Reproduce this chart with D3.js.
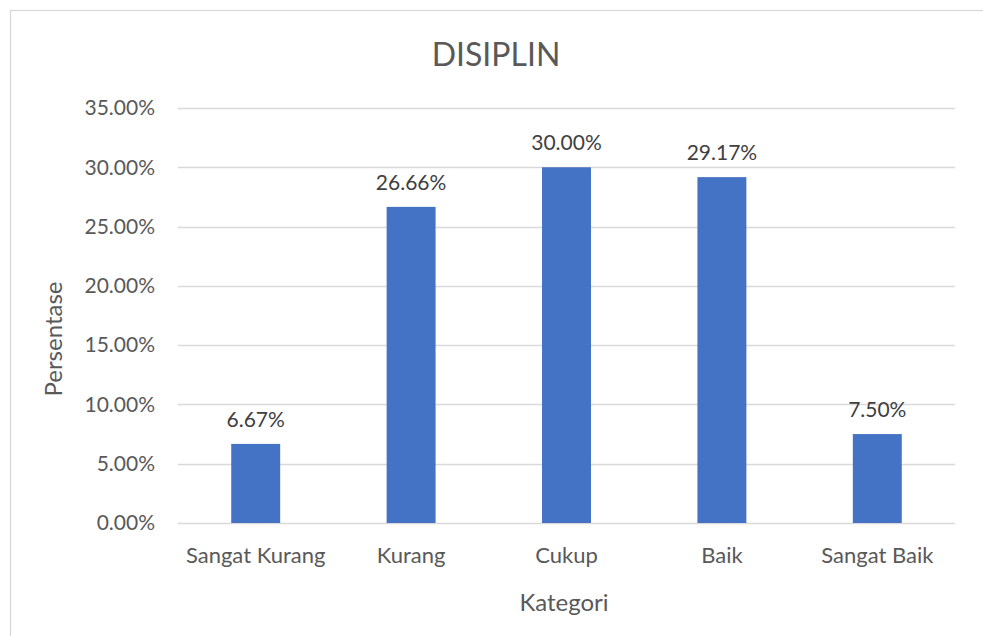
<!DOCTYPE html>
<html lang="en">
<head>
<meta charset="utf-8">
<title>DISIPLIN</title>
<script src="https://d3js.org/d3.v7.min.js"></script>
<style>
  body { margin: 0; background: #fff; }
  svg text { font-family: Lato, "Open Sans", sans-serif; }
  .grid line { stroke: #d9d9d9; stroke-width: 1.3; }
  .tick-label { fill: #595959; font-size: 21px; }
  .cat-label { fill: #595959; font-size: 22px; }
  .val-label { fill: #404040; font-size: 21px; }
  .axis-title { fill: #595959; font-size: 24px; }
  .title { fill: #595959; font-size: 32px; }
</style>
</head>
<body>
<svg width="983" height="636"></svg>
<script>
  // data
  var categories = ["Sangat Kurang", "Kurang", "Cukup", "Baik", "Sangat Baik"];
  var values = [6.67, 26.66, 30.00, 29.17, 7.50];
  var yTicks = [0, 5, 10, 15, 20, 25, 30, 35];

  var svg = d3.select("svg");

  // chart border (only top and left visible in the picture)
  svg.append("rect")
    .attr("x", 10.5).attr("y", 10.5)
    .attr("width", 1000).attr("height", 700)
    .attr("fill", "none")
    .attr("stroke", "#d9d9d9")
    .attr("stroke-width", 1.3);

  var plot = { left: 178, right: 955, top: 108, bottom: 523 };

  var x = d3.scaleBand()
    .domain(categories)
    .range([plot.left, plot.right])
    .paddingInner(0.685)
    .paddingOuter(0.3425);

  var y = d3.scaleLinear()
    .domain([0, 35])
    .range([plot.bottom, plot.top]);

  // gridlines
  svg.append("g")
    .attr("class", "grid")
    .selectAll("line")
    .data(yTicks)
    .enter().append("line")
    .attr("x1", plot.left)
    .attr("x2", plot.right)
    .attr("y1", function(d) { return Math.round(y(d)) + 0.5; })
    .attr("y2", function(d) { return Math.round(y(d)) + 0.5; });

  // y tick labels
  svg.append("g")
    .selectAll("text")
    .data(yTicks)
    .enter().append("text")
    .attr("class", "tick-label")
    .attr("x", 155)
    .attr("y", function(d) { return y(d); })
    .attr("dy", "0.35em")
    .attr("text-anchor", "end")
    .text(function(d) { return d.toFixed(2) + "%"; });

  // bars
  svg.append("g")
    .selectAll("rect")
    .data(values)
    .enter().append("rect")
    .attr("x", function(d, i) { return x(categories[i]); })
    .attr("width", x.bandwidth())
    .attr("y", function(d) { return y(d); })
    .attr("height", function(d) { return y(0) - y(d); })
    .attr("fill", "#4472c4");

  // value labels
  svg.append("g")
    .selectAll("text")
    .data(values)
    .enter().append("text")
    .attr("class", "val-label")
    .attr("x", function(d, i) { return x(categories[i]) + x.bandwidth() / 2; })
    .attr("y", function(d) { return y(d) - 17; })
    .attr("text-anchor", "middle")
    .text(function(d) { return d.toFixed(2) + "%"; });

  // category labels
  svg.append("g")
    .selectAll("text")
    .data(categories)
    .enter().append("text")
    .attr("class", "cat-label")
    .attr("x", function(d) { return x(d) + x.bandwidth() / 2; })
    .attr("y", 563)
    .attr("text-anchor", "middle")
    .text(function(d) { return d; });

  // titles
  svg.append("text")
    .attr("class", "title")
    .attr("x", 496)
    .attr("y", 66)
    .attr("text-anchor", "middle")
    .text("DISIPLIN");

  svg.append("text")
    .attr("class", "axis-title")
    .attr("x", 564)
    .attr("y", 611)
    .attr("text-anchor", "middle")
    .text("Kategori");

  svg.append("text")
    .attr("class", "axis-title")
    .attr("transform", "translate(62,339) rotate(-90)")
    .attr("text-anchor", "middle")
    .text("Persentase");
</script>
</body>
</html>
